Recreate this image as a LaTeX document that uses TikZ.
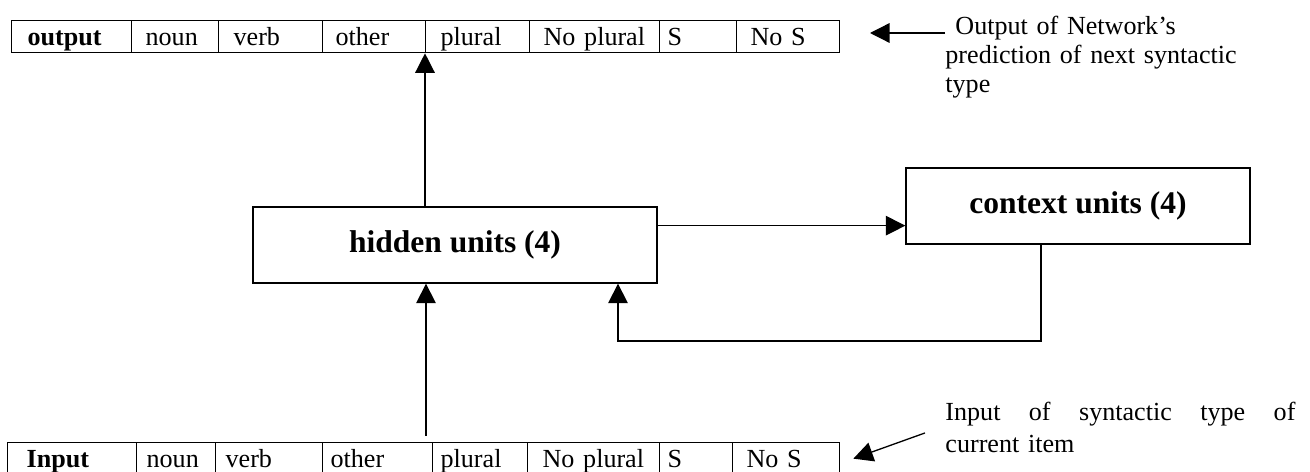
\documentclass[tikz,border=0pt]{standalone}
\usepackage{fontspec}
\setmainfont{Liberation Serif}
\usetikzlibrary{arrows.meta,positioning}

\begin{document}
\begin{tikzpicture}[x=0.46pt, y=-0.46pt,
  font=\fontsize{12}{13}\selectfont,
  cell/.style={draw, line width=0.6pt, anchor=north west, inner ysep=0pt,
    minimum height=14.72pt, text height=9.5pt, text depth=1.5pt, align=left},
  unit/.style={draw, line width=0.6pt, minimum width=#1, minimum height=34.96pt,
    font=\fontsize{14.5}{16}\selectfont\bfseries},
  note/.style={inner sep=0pt, anchor=base west, align=left},
  arr/.style={-{Triangle[length=9pt,width=9pt]}, line width=0.6pt}]
\useasboundingbox (0,0) rectangle (1310,472);
% output layer
\foreach \nm/\xa/\xb/\ins/\txt in {o1/11/131/16/\textbf{output}, o2/131/218/14/noun,
    o3/218/322/15/verb, o4/322/425/13/other, o5/425/529/15/plural,
    o6/529/659/14/No plural, o7/659/736/8/S, o8/736/839/14/No S}{
  \pgfmathsetmacro{\tw}{(\xb-\xa-2*\ins)*0.46}
  \pgfmathsetmacro{\is}{\ins*0.46}
  \node[cell, inner xsep=\is pt, text width=\tw pt] (\nm) at (\xa,20) {\txt};
}
% input layer
\foreach \nm/\xa/\xb/\ins/\txt in {i1/7/136/19/\textbf{Input}, i2/136/215/10/noun,
    i3/215/322/10/verb, i4/322/432/8/other, i5/432/527/8/plural,
    i6/527/659/15/No plural, i7/659/732/8/S, i8/732/839/14/No S}{
  \pgfmathsetmacro{\tw}{(\xb-\xa-2*\ins)*0.46}
  \pgfmathsetmacro{\is}{\ins*0.46}
  \node[cell, inner xsep=\is pt, text width=\tw pt] (\nm) at (\xa,442) {\txt};
}
% hidden and context units
\node[unit=185.84pt] (hidden) at (455,245) {hidden units (4)};
\node[unit=158.24pt] (context) at (1078,206) {context units (4)};
% notes
\node[note, text width=160pt] (outnote) at (945,35)
  {\hspace*{4.6pt}Output of Network’s\\[0.2pt]prediction of next syntactic\\[0.2pt]type};
\node[note, text width=161pt] (innote) at (945,421)
  {Input\hfill of\hfill syntactic\hfill type\hfill of\\[1.7pt]current item};
% connectors
\coordinate (intap) at (426,436);
\coordinate (ctxin) at ([yshift=8.74pt]context.south west);
\coordinate (fbdown) at (1041,341);
\coordinate (fbup) at (618,341);
\coordinate (outtip) at (870,33);
\draw[arr] (hidden.north -| o5.south west) -- (o5.south west);
\draw[arr] (intap) -- (intap |- hidden.south);
\draw[arr] (hidden.east |- ctxin) -- (ctxin);
\draw[arr] (fbdown |- context.south) -- (fbdown) -- (fbup) -- (fbup |- hidden.south);
\draw[arr] (outtip -| outnote.base west) -- (outtip);
\draw[arr] ([xshift=-9.2pt,yshift=-5.5pt]innote.base west) -- ([xshift=6pt]i8.east);
\end{tikzpicture}
\end{document}
